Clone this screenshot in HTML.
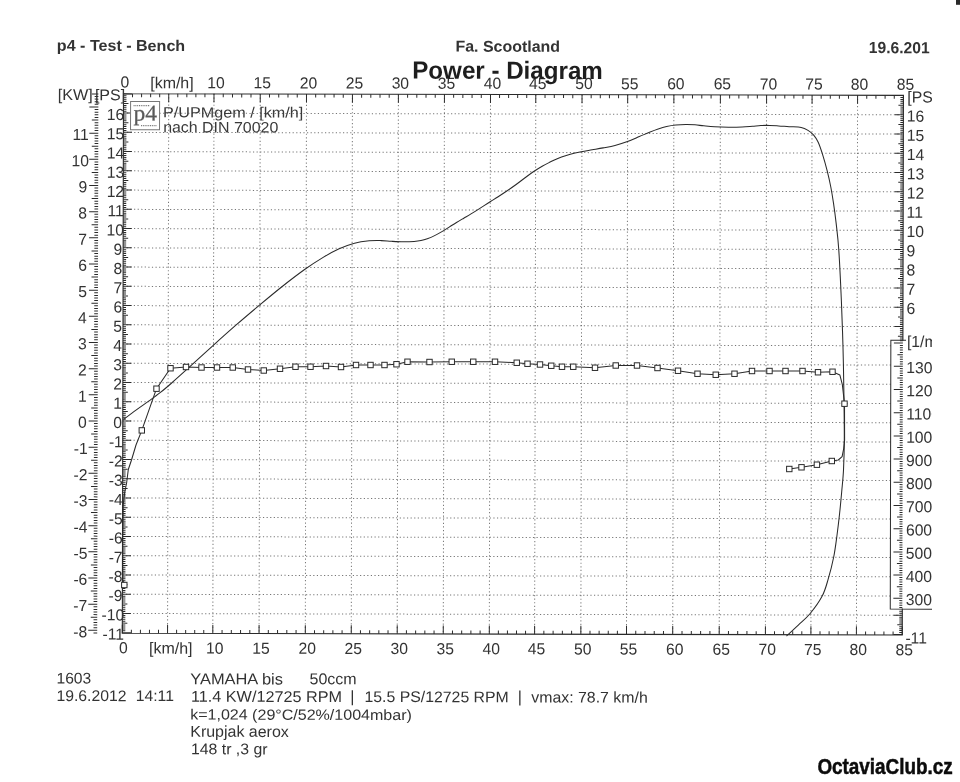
<!DOCTYPE html>
<html><head><meta charset="utf-8"><title>Power - Diagram</title>
<style>
html,body{margin:0;padding:0;background:#fff;width:960px;height:782px;overflow:hidden}
svg{display:block;filter:blur(0.3px)}
text{font-family:"Liberation Sans",Arial,sans-serif}
</style></head><body>
<svg width="960" height="782" viewBox="0 0 960 782">
<defs>
<clipPath id="pg"><rect x="0" y="0" width="931.9" height="782"/></clipPath>
<clipPath id="pa"><rect x="122.9" y="94.5" width="779.95" height="539.6"/></clipPath>
</defs>
<rect width="960" height="782" fill="#fff"/>
<g clip-path="url(#pg)">
<g transform="rotate(0.126 512.85 364.4)">
<path d="M168.15 94.5V634.1M213.4 94.5V634.1M259.65 94.5V634.1M305.9 94.5V634.1M351.85 94.5V634.1M397.8 94.5V634.1M443.85 94.5V634.1M489.9 94.5V634.1M535.2 94.5V634.1M581.45 94.5V634.1M627.1 94.5V634.1M673.3 94.5V634.1M719.8 94.5V634.1M766 94.5V634.1M811.5 94.5V634.1M857 94.5V634.1M122.9 614.36H902.85M122.9 595.11H902.85M122.9 575.87H902.85M122.9 556.62H902.85M122.9 537.38H902.85M122.9 518.13H902.85M122.9 498.88H902.85M122.9 479.64H902.85M122.9 460.39H902.85M122.9 441.15H902.85M122.9 421.9H902.85M122.9 402.65H902.85M122.9 383.41H902.85M122.9 364.16H902.85M122.9 344.92H902.85M122.9 325.67H902.85M122.9 306.42H902.85M122.9 287.18H902.85M122.9 267.93H902.85M122.9 248.69H902.85M122.9 229.44H902.85M122.9 210.19H902.85M122.9 190.95H902.85M122.9 171.7H902.85M122.9 152.46H902.85M122.9 133.21H902.85M122.9 113.96H902.85" stroke="#757575" stroke-width="1" stroke-dasharray="1.2 2.4" fill="none"/>
<path d="M122.9 94.5v8.5M122.9 634.1v-8.5M131.95 94.5v3.5M131.95 634.1v-3.5M141 94.5v3.5M141 634.1v-3.5M150.05 94.5v3.5M150.05 634.1v-3.5M159.1 94.5v3.5M159.1 634.1v-3.5M168.15 94.5v8.5M168.15 634.1v-8.5M177.2 94.5v3.5M177.2 634.1v-3.5M186.25 94.5v3.5M186.25 634.1v-3.5M195.3 94.5v3.5M195.3 634.1v-3.5M204.35 94.5v3.5M204.35 634.1v-3.5M213.4 94.5v8.5M213.4 634.1v-8.5M222.65 94.5v3.5M222.65 634.1v-3.5M231.9 94.5v3.5M231.9 634.1v-3.5M241.15 94.5v3.5M241.15 634.1v-3.5M250.4 94.5v3.5M250.4 634.1v-3.5M259.65 94.5v8.5M259.65 634.1v-8.5M268.9 94.5v3.5M268.9 634.1v-3.5M278.15 94.5v3.5M278.15 634.1v-3.5M287.4 94.5v3.5M287.4 634.1v-3.5M296.65 94.5v3.5M296.65 634.1v-3.5M305.9 94.5v8.5M305.9 634.1v-8.5M315.09 94.5v3.5M315.09 634.1v-3.5M324.28 94.5v3.5M324.28 634.1v-3.5M333.47 94.5v3.5M333.47 634.1v-3.5M342.66 94.5v3.5M342.66 634.1v-3.5M351.85 94.5v8.5M351.85 634.1v-8.5M361.04 94.5v3.5M361.04 634.1v-3.5M370.23 94.5v3.5M370.23 634.1v-3.5M379.42 94.5v3.5M379.42 634.1v-3.5M388.61 94.5v3.5M388.61 634.1v-3.5M397.8 94.5v8.5M397.8 634.1v-8.5M407.01 94.5v3.5M407.01 634.1v-3.5M416.22 94.5v3.5M416.22 634.1v-3.5M425.43 94.5v3.5M425.43 634.1v-3.5M434.64 94.5v3.5M434.64 634.1v-3.5M443.85 94.5v8.5M443.85 634.1v-8.5M453.06 94.5v3.5M453.06 634.1v-3.5M462.27 94.5v3.5M462.27 634.1v-3.5M471.48 94.5v3.5M471.48 634.1v-3.5M480.69 94.5v3.5M480.69 634.1v-3.5M489.9 94.5v8.5M489.9 634.1v-8.5M498.96 94.5v3.5M498.96 634.1v-3.5M508.02 94.5v3.5M508.02 634.1v-3.5M517.08 94.5v3.5M517.08 634.1v-3.5M526.14 94.5v3.5M526.14 634.1v-3.5M535.2 94.5v8.5M535.2 634.1v-8.5M544.45 94.5v3.5M544.45 634.1v-3.5M553.7 94.5v3.5M553.7 634.1v-3.5M562.95 94.5v3.5M562.95 634.1v-3.5M572.2 94.5v3.5M572.2 634.1v-3.5M581.45 94.5v8.5M581.45 634.1v-8.5M590.58 94.5v3.5M590.58 634.1v-3.5M599.71 94.5v3.5M599.71 634.1v-3.5M608.84 94.5v3.5M608.84 634.1v-3.5M617.97 94.5v3.5M617.97 634.1v-3.5M627.1 94.5v8.5M627.1 634.1v-8.5M636.34 94.5v3.5M636.34 634.1v-3.5M645.58 94.5v3.5M645.58 634.1v-3.5M654.82 94.5v3.5M654.82 634.1v-3.5M664.06 94.5v3.5M664.06 634.1v-3.5M673.3 94.5v8.5M673.3 634.1v-8.5M682.6 94.5v3.5M682.6 634.1v-3.5M691.9 94.5v3.5M691.9 634.1v-3.5M701.2 94.5v3.5M701.2 634.1v-3.5M710.5 94.5v3.5M710.5 634.1v-3.5M719.8 94.5v8.5M719.8 634.1v-8.5M729.04 94.5v3.5M729.04 634.1v-3.5M738.28 94.5v3.5M738.28 634.1v-3.5M747.52 94.5v3.5M747.52 634.1v-3.5M756.76 94.5v3.5M756.76 634.1v-3.5M766 94.5v8.5M766 634.1v-8.5M775.1 94.5v3.5M775.1 634.1v-3.5M784.2 94.5v3.5M784.2 634.1v-3.5M793.3 94.5v3.5M793.3 634.1v-3.5M802.4 94.5v3.5M802.4 634.1v-3.5M811.5 94.5v8.5M811.5 634.1v-8.5M820.6 94.5v3.5M820.6 634.1v-3.5M829.7 94.5v3.5M829.7 634.1v-3.5M838.8 94.5v3.5M838.8 634.1v-3.5M847.9 94.5v3.5M847.9 634.1v-3.5M857 94.5v8.5M857 634.1v-8.5M866.17 94.5v3.5M866.17 634.1v-3.5M875.34 94.5v3.5M875.34 634.1v-3.5M884.51 94.5v3.5M884.51 634.1v-3.5M893.68 94.5v3.5M893.68 634.1v-3.5M902.85 94.5v8.5M902.85 634.1v-8.5M122.9 633.61h8.5M902.85 633.61h-8.5M122.9 631.68h3M902.85 631.68h-3M122.9 629.76h3M902.85 629.76h-3M122.9 627.83h3M902.85 627.83h-3M122.9 625.91h3M902.85 625.91h-3M122.9 623.98h5M902.85 623.98h-5M122.9 622.06h3M902.85 622.06h-3M122.9 620.13h3M902.85 620.13h-3M122.9 618.21h3M902.85 618.21h-3M122.9 616.28h3M902.85 616.28h-3M122.9 614.36h8.5M902.85 614.36h-8.5M122.9 612.44h3M902.85 612.44h-3M122.9 610.51h3M902.85 610.51h-3M122.9 608.59h3M122.9 606.66h3M122.9 604.74h5M122.9 602.81h3M122.9 600.89h3M122.9 598.96h3M122.9 597.04h3M122.9 595.11h8.5M122.9 593.19h3M122.9 591.26h3M122.9 589.34h3M122.9 587.42h3M122.9 585.49h5M122.9 583.57h3M122.9 581.64h3M122.9 579.72h3M122.9 577.79h3M122.9 575.87h8.5M122.9 573.94h3M122.9 572.02h3M122.9 570.09h3M122.9 568.17h3M122.9 566.25h5M122.9 564.32h3M122.9 562.4h3M122.9 560.47h3M122.9 558.55h3M122.9 556.62h8.5M122.9 554.7h3M122.9 552.77h3M122.9 550.85h3M122.9 548.92h3M122.9 547h5M122.9 545.07h3M122.9 543.15h3M122.9 541.23h3M122.9 539.3h3M122.9 537.38h8.5M122.9 535.45h3M122.9 533.53h3M122.9 531.6h3M122.9 529.68h3M122.9 527.75h5M122.9 525.83h3M122.9 523.9h3M122.9 521.98h3M122.9 520.05h3M122.9 518.13h8.5M122.9 516.21h3M122.9 514.28h3M122.9 512.36h3M122.9 510.43h3M122.9 508.51h5M122.9 506.58h3M122.9 504.66h3M122.9 502.73h3M122.9 500.81h3M122.9 498.88h8.5M122.9 496.96h3M122.9 495.03h3M122.9 493.11h3M122.9 491.19h3M122.9 489.26h5M122.9 487.34h3M122.9 485.41h3M122.9 483.49h3M122.9 481.56h3M122.9 479.64h8.5M122.9 477.71h3M122.9 475.79h3M122.9 473.86h3M122.9 471.94h3M122.9 470.01h5M122.9 468.09h3M122.9 466.17h3M122.9 464.24h3M122.9 462.32h3M122.9 460.39h8.5M122.9 458.47h3M122.9 456.54h3M122.9 454.62h3M122.9 452.69h3M122.9 450.77h5M122.9 448.84h3M122.9 446.92h3M122.9 445h3M122.9 443.07h3M122.9 441.15h8.5M122.9 439.22h3M122.9 437.3h3M122.9 435.37h3M122.9 433.45h3M122.9 431.52h5M122.9 429.6h3M122.9 427.67h3M122.9 425.75h3M122.9 423.82h3M122.9 421.9h8.5M122.9 419.98h3M122.9 418.05h3M122.9 416.13h3M122.9 414.2h3M122.9 412.28h5M122.9 410.35h3M122.9 408.43h3M122.9 406.5h3M122.9 404.58h3M122.9 402.65h8.5M122.9 400.73h3M122.9 398.8h3M122.9 396.88h3M122.9 394.96h3M122.9 393.03h5M122.9 391.11h3M122.9 389.18h3M122.9 387.26h3M122.9 385.33h3M122.9 383.41h8.5M122.9 381.48h3M122.9 379.56h3M122.9 377.63h3M122.9 375.71h3M122.9 373.78h5M122.9 371.86h3M122.9 369.94h3M122.9 368.01h3M122.9 366.09h3M122.9 364.16h8.5M122.9 362.24h3M122.9 360.31h3M122.9 358.39h3M122.9 356.46h3M122.9 354.54h5M122.9 352.61h3M122.9 350.69h3M122.9 348.77h3M122.9 346.84h3M122.9 344.92h8.5M122.9 342.99h3M122.9 341.07h3M122.9 339.14h3M902.85 339.14h-3M122.9 337.22h3M902.85 337.22h-3M122.9 335.29h5M902.85 335.29h-5M122.9 333.37h3M902.85 333.37h-3M122.9 331.44h3M902.85 331.44h-3M122.9 329.52h3M902.85 329.52h-3M122.9 327.59h3M902.85 327.59h-3M122.9 325.67h8.5M902.85 325.67h-8.5M122.9 323.75h3M902.85 323.75h-3M122.9 321.82h3M902.85 321.82h-3M122.9 319.9h3M902.85 319.9h-3M122.9 317.97h3M902.85 317.97h-3M122.9 316.05h5M902.85 316.05h-5M122.9 314.12h3M902.85 314.12h-3M122.9 312.2h3M902.85 312.2h-3M122.9 310.27h3M902.85 310.27h-3M122.9 308.35h3M902.85 308.35h-3M122.9 306.42h8.5M902.85 306.42h-8.5M122.9 304.5h3M902.85 304.5h-3M122.9 302.57h3M902.85 302.57h-3M122.9 300.65h3M902.85 300.65h-3M122.9 298.73h3M902.85 298.73h-3M122.9 296.8h5M902.85 296.8h-5M122.9 294.88h3M902.85 294.88h-3M122.9 292.95h3M902.85 292.95h-3M122.9 291.03h3M902.85 291.03h-3M122.9 289.1h3M902.85 289.1h-3M122.9 287.18h8.5M902.85 287.18h-8.5M122.9 285.25h3M902.85 285.25h-3M122.9 283.33h3M902.85 283.33h-3M122.9 281.4h3M902.85 281.4h-3M122.9 279.48h3M902.85 279.48h-3M122.9 277.55h5M902.85 277.55h-5M122.9 275.63h3M902.85 275.63h-3M122.9 273.71h3M902.85 273.71h-3M122.9 271.78h3M902.85 271.78h-3M122.9 269.86h3M902.85 269.86h-3M122.9 267.93h8.5M902.85 267.93h-8.5M122.9 266.01h3M902.85 266.01h-3M122.9 264.08h3M902.85 264.08h-3M122.9 262.16h3M902.85 262.16h-3M122.9 260.23h3M902.85 260.23h-3M122.9 258.31h5M902.85 258.31h-5M122.9 256.38h3M902.85 256.38h-3M122.9 254.46h3M902.85 254.46h-3M122.9 252.54h3M902.85 252.54h-3M122.9 250.61h3M902.85 250.61h-3M122.9 248.69h8.5M902.85 248.69h-8.5M122.9 246.76h3M902.85 246.76h-3M122.9 244.84h3M902.85 244.84h-3M122.9 242.91h3M902.85 242.91h-3M122.9 240.99h3M902.85 240.99h-3M122.9 239.06h5M902.85 239.06h-5M122.9 237.14h3M902.85 237.14h-3M122.9 235.21h3M902.85 235.21h-3M122.9 233.29h3M902.85 233.29h-3M122.9 231.36h3M902.85 231.36h-3M122.9 229.44h8.5M902.85 229.44h-8.5M122.9 227.52h3M902.85 227.52h-3M122.9 225.59h3M902.85 225.59h-3M122.9 223.67h3M902.85 223.67h-3M122.9 221.74h3M902.85 221.74h-3M122.9 219.82h5M902.85 219.82h-5M122.9 217.89h3M902.85 217.89h-3M122.9 215.97h3M902.85 215.97h-3M122.9 214.04h3M902.85 214.04h-3M122.9 212.12h3M902.85 212.12h-3M122.9 210.19h8.5M902.85 210.19h-8.5M122.9 208.27h3M902.85 208.27h-3M122.9 206.34h3M902.85 206.34h-3M122.9 204.42h3M902.85 204.42h-3M122.9 202.5h3M902.85 202.5h-3M122.9 200.57h5M902.85 200.57h-5M122.9 198.65h3M902.85 198.65h-3M122.9 196.72h3M902.85 196.72h-3M122.9 194.8h3M902.85 194.8h-3M122.9 192.87h3M902.85 192.87h-3M122.9 190.95h8.5M902.85 190.95h-8.5M122.9 189.02h3M902.85 189.02h-3M122.9 187.1h3M902.85 187.1h-3M122.9 185.17h3M902.85 185.17h-3M122.9 183.25h3M902.85 183.25h-3M122.9 181.32h5M902.85 181.32h-5M122.9 179.4h3M902.85 179.4h-3M122.9 177.48h3M902.85 177.48h-3M122.9 175.55h3M902.85 175.55h-3M122.9 173.63h3M902.85 173.63h-3M122.9 171.7h8.5M902.85 171.7h-8.5M122.9 169.78h3M902.85 169.78h-3M122.9 167.85h3M902.85 167.85h-3M122.9 165.93h3M902.85 165.93h-3M122.9 164h3M902.85 164h-3M122.9 162.08h5M902.85 162.08h-5M122.9 160.15h3M902.85 160.15h-3M122.9 158.23h3M902.85 158.23h-3M122.9 156.31h3M902.85 156.31h-3M122.9 154.38h3M902.85 154.38h-3M122.9 152.46h8.5M902.85 152.46h-8.5M122.9 150.53h3M902.85 150.53h-3M122.9 148.61h3M902.85 148.61h-3M122.9 146.68h3M902.85 146.68h-3M122.9 144.76h3M902.85 144.76h-3M122.9 142.83h5M902.85 142.83h-5M122.9 140.91h3M902.85 140.91h-3M122.9 138.98h3M902.85 138.98h-3M122.9 137.06h3M902.85 137.06h-3M122.9 135.13h3M902.85 135.13h-3M122.9 133.21h8.5M902.85 133.21h-8.5M122.9 131.29h3M902.85 131.29h-3M122.9 129.36h3M902.85 129.36h-3M122.9 127.44h3M902.85 127.44h-3M122.9 125.51h3M902.85 125.51h-3M122.9 123.59h5M902.85 123.59h-5M122.9 121.66h3M902.85 121.66h-3M122.9 119.74h3M902.85 119.74h-3M122.9 117.81h3M902.85 117.81h-3M122.9 115.89h3M902.85 115.89h-3M122.9 113.96h8.5M902.85 113.96h-8.5M122.9 112.04h3M902.85 112.04h-3M122.9 110.11h3M902.85 110.11h-3M122.9 108.19h3M902.85 108.19h-3M122.9 106.27h3M902.85 106.27h-3M122.9 104.34h5M902.85 104.34h-5M122.9 102.42h3M902.85 102.42h-3M122.9 100.49h3M902.85 100.49h-3M122.9 98.57h3M902.85 98.57h-3M122.9 96.64h3M902.85 96.64h-3M122.9 94.72h8.5M902.85 94.72h-8.5M97.8 633.85h-3.7M97.8 631.24h-9M97.8 628.62h-3.7M97.8 626h-3.7M97.8 623.39h-3.7M97.8 620.77h-3.7M97.8 618.15h-6.5M97.8 615.54h-3.7M97.8 612.92h-3.7M97.8 610.3h-3.7M97.8 607.69h-3.7M97.8 605.07h-9M97.8 602.45h-3.7M97.8 599.84h-3.7M97.8 597.22h-3.7M97.8 594.6h-3.7M97.8 591.99h-6.5M97.8 589.37h-3.7M97.8 586.75h-3.7M97.8 584.14h-3.7M97.8 581.52h-3.7M97.8 578.9h-9M97.8 576.29h-3.7M97.8 573.67h-3.7M97.8 571.05h-3.7M97.8 568.44h-3.7M97.8 565.82h-6.5M97.8 563.2h-3.7M97.8 560.59h-3.7M97.8 557.97h-3.7M97.8 555.35h-3.7M97.8 552.74h-9M97.8 550.12h-3.7M97.8 547.5h-3.7M97.8 544.89h-3.7M97.8 542.27h-3.7M97.8 539.65h-6.5M97.8 537.04h-3.7M97.8 534.42h-3.7M97.8 531.8h-3.7M97.8 529.19h-3.7M97.8 526.57h-9M97.8 523.95h-3.7M97.8 521.34h-3.7M97.8 518.72h-3.7M97.8 516.1h-3.7M97.8 513.49h-6.5M97.8 510.87h-3.7M97.8 508.25h-3.7M97.8 505.64h-3.7M97.8 503.02h-3.7M97.8 500.4h-9M97.8 497.79h-3.7M97.8 495.17h-3.7M97.8 492.55h-3.7M97.8 489.93h-3.7M97.8 487.32h-6.5M97.8 484.7h-3.7M97.8 482.08h-3.7M97.8 479.47h-3.7M97.8 476.85h-3.7M97.8 474.23h-9M97.8 471.62h-3.7M97.8 469h-3.7M97.8 466.38h-3.7M97.8 463.77h-3.7M97.8 461.15h-6.5M97.8 458.53h-3.7M97.8 455.92h-3.7M97.8 453.3h-3.7M97.8 450.68h-3.7M97.8 448.07h-9M97.8 445.45h-3.7M97.8 442.83h-3.7M97.8 440.22h-3.7M97.8 437.6h-3.7M97.8 434.98h-6.5M97.8 432.37h-3.7M97.8 429.75h-3.7M97.8 427.13h-3.7M97.8 424.52h-3.7M97.8 421.9h-9M97.8 419.28h-3.7M97.8 416.67h-3.7M97.8 414.05h-3.7M97.8 411.43h-3.7M97.8 408.82h-6.5M97.8 406.2h-3.7M97.8 403.58h-3.7M97.8 400.97h-3.7M97.8 398.35h-3.7M97.8 395.73h-9M97.8 393.12h-3.7M97.8 390.5h-3.7M97.8 387.88h-3.7M97.8 385.27h-3.7M97.8 382.65h-6.5M97.8 380.03h-3.7M97.8 377.42h-3.7M97.8 374.8h-3.7M97.8 372.18h-3.7M97.8 369.57h-9M97.8 366.95h-3.7M97.8 364.33h-3.7M97.8 361.72h-3.7M97.8 359.1h-3.7M97.8 356.48h-6.5M97.8 353.87h-3.7M97.8 351.25h-3.7M97.8 348.63h-3.7M97.8 346.01h-3.7M97.8 343.4h-9M97.8 340.78h-3.7M97.8 338.16h-3.7M97.8 335.55h-3.7M97.8 332.93h-3.7M97.8 330.31h-6.5M97.8 327.7h-3.7M97.8 325.08h-3.7M97.8 322.46h-3.7M97.8 319.85h-3.7M97.8 317.23h-9M97.8 314.61h-3.7M97.8 312h-3.7M97.8 309.38h-3.7M97.8 306.76h-3.7M97.8 304.15h-6.5M97.8 301.53h-3.7M97.8 298.91h-3.7M97.8 296.3h-3.7M97.8 293.68h-3.7M97.8 291.06h-9M97.8 288.45h-3.7M97.8 285.83h-3.7M97.8 283.21h-3.7M97.8 280.6h-3.7M97.8 277.98h-6.5M97.8 275.36h-3.7M97.8 272.75h-3.7M97.8 270.13h-3.7M97.8 267.51h-3.7M97.8 264.9h-9M97.8 262.28h-3.7M97.8 259.66h-3.7M97.8 257.05h-3.7M97.8 254.43h-3.7M97.8 251.81h-6.5M97.8 249.2h-3.7M97.8 246.58h-3.7M97.8 243.96h-3.7M97.8 241.35h-3.7M97.8 238.73h-9M97.8 236.11h-3.7M97.8 233.5h-3.7M97.8 230.88h-3.7M97.8 228.26h-3.7M97.8 225.65h-6.5M97.8 223.03h-3.7M97.8 220.41h-3.7M97.8 217.8h-3.7M97.8 215.18h-3.7M97.8 212.56h-9M97.8 209.95h-3.7M97.8 207.33h-3.7M97.8 204.71h-3.7M97.8 202.1h-3.7M97.8 199.48h-6.5M97.8 196.86h-3.7M97.8 194.24h-3.7M97.8 191.63h-3.7M97.8 189.01h-3.7M97.8 186.39h-9M97.8 183.78h-3.7M97.8 181.16h-3.7M97.8 178.54h-3.7M97.8 175.93h-3.7M97.8 173.31h-6.5M97.8 170.69h-3.7M97.8 168.08h-3.7M97.8 165.46h-3.7M97.8 162.84h-3.7M97.8 160.23h-9M97.8 157.61h-3.7M97.8 154.99h-3.7M97.8 152.38h-3.7M97.8 149.76h-3.7M97.8 147.14h-6.5M97.8 144.53h-3.7M97.8 141.91h-3.7M97.8 139.29h-3.7M97.8 136.68h-3.7M97.8 134.06h-9M97.8 131.44h-3.7M97.8 128.83h-3.7M97.8 126.21h-3.7M97.8 123.59h-3.7M97.8 120.98h-6.5M97.8 118.36h-3.7M97.8 115.74h-3.7M97.8 113.13h-3.7M97.8 110.51h-3.7M97.8 107.89h-9M97.8 105.28h-3.7M97.8 102.66h-3.7M97.8 100.04h-3.7M97.8 97.43h-3.7M97.8 94.81h-6.5" stroke="#2a2a2a" stroke-width="1" fill="none"/>
<rect x="890.8" y="339.4" width="61.700000000000045" height="268.85" fill="#fff"/>
<path d="M906 339.4H890.8V608.25H950" stroke="#2a2a2a" stroke-width="1" fill="none"/>
<path d="M902.85 606.73h-3M902.85 604.41h-3M902.85 602.09h-3M902.85 599.77h-3M902.85 597.45h-9M902.85 595.13h-3M902.85 592.81h-3M902.85 590.49h-3M902.85 588.17h-3M902.85 585.85h-5.5M902.85 583.53h-3M902.85 581.21h-3M902.85 578.89h-3M902.85 576.57h-3M902.85 574.25h-9M902.85 571.93h-3M902.85 569.61h-3M902.85 567.29h-3M902.85 564.97h-3M902.85 562.65h-5.5M902.85 560.33h-3M902.85 558.01h-3M902.85 555.69h-3M902.85 553.37h-3M902.85 551.05h-9M902.85 548.73h-3M902.85 546.41h-3M902.85 544.09h-3M902.85 541.77h-3M902.85 539.45h-5.5M902.85 537.13h-3M902.85 534.81h-3M902.85 532.49h-3M902.85 530.17h-3M902.85 527.85h-9M902.85 525.53h-3M902.85 523.21h-3M902.85 520.89h-3M902.85 518.57h-3M902.85 516.25h-5.5M902.85 513.93h-3M902.85 511.61h-3M902.85 509.29h-3M902.85 506.97h-3M902.85 504.65h-9M902.85 502.33h-3M902.85 500.01h-3M902.85 497.69h-3M902.85 495.37h-3M902.85 493.05h-5.5M902.85 490.73h-3M902.85 488.41h-3M902.85 486.09h-3M902.85 483.77h-3M902.85 481.45h-9M902.85 479.13h-3M902.85 476.81h-3M902.85 474.49h-3M902.85 472.17h-3M902.85 469.85h-5.5M902.85 467.53h-3M902.85 465.21h-3M902.85 462.89h-3M902.85 460.57h-3M902.85 458.25h-9M902.85 455.93h-3M902.85 453.61h-3M902.85 451.29h-3M902.85 448.97h-3M902.85 446.65h-5.5M902.85 444.33h-3M902.85 442.01h-3M902.85 439.69h-3M902.85 437.37h-3M902.85 435.05h-9M902.85 432.73h-3M902.85 430.41h-3M902.85 428.09h-3M902.85 425.77h-3M902.85 423.45h-5.5M902.85 421.13h-3M902.85 418.81h-3M902.85 416.49h-3M902.85 414.17h-3M902.85 411.85h-9M902.85 409.53h-3M902.85 407.21h-3M902.85 404.89h-3M902.85 402.57h-3M902.85 400.25h-5.5M902.85 397.93h-3M902.85 395.61h-3M902.85 393.29h-3M902.85 390.97h-3M902.85 388.65h-9M902.85 386.33h-3M902.85 384.01h-3M902.85 381.69h-3M902.85 379.37h-3M902.85 377.05h-5.5M902.85 374.73h-3M902.85 372.41h-3M902.85 370.09h-3M902.85 367.77h-3M902.85 365.45h-9M902.85 363.13h-3M902.85 360.81h-3M902.85 358.49h-3M902.85 356.17h-3M902.85 353.85h-5.5M902.85 351.53h-3M902.85 349.21h-3M902.85 346.89h-3M902.85 344.57h-3M902.85 342.25h-9M902.85 339.93h-3" stroke="#2a2a2a" stroke-width="1" fill="none"/>
<path d="M122.9 94.5H902.85V339.4M902.85 608.25V634.1H122.9V94.5" stroke="#2a2a2a" stroke-width="1.1" fill="none" stroke-linecap="square"/>
<text x="206.65" y="88.9" font-size="16" textLength="17.44" lengthAdjust="spacingAndGlyphs" fill="#333">10</text>
<text x="252.9" y="88.9" font-size="16" textLength="17.44" lengthAdjust="spacingAndGlyphs" fill="#333">15</text>
<text x="299.15" y="88.9" font-size="16" textLength="17.44" lengthAdjust="spacingAndGlyphs" fill="#333">20</text>
<text x="345.1" y="88.9" font-size="16" textLength="17.44" lengthAdjust="spacingAndGlyphs" fill="#333">25</text>
<text x="391.05" y="88.9" font-size="16" textLength="17.44" lengthAdjust="spacingAndGlyphs" fill="#333">30</text>
<text x="437.1" y="88.9" font-size="16" textLength="17.44" lengthAdjust="spacingAndGlyphs" fill="#333">35</text>
<text x="483.15" y="88.9" font-size="16" textLength="17.44" lengthAdjust="spacingAndGlyphs" fill="#333">40</text>
<text x="528.45" y="88.9" font-size="16" textLength="17.44" lengthAdjust="spacingAndGlyphs" fill="#333">45</text>
<text x="574.7" y="88.9" font-size="16" textLength="17.44" lengthAdjust="spacingAndGlyphs" fill="#333">50</text>
<text x="620.35" y="88.9" font-size="16" textLength="17.44" lengthAdjust="spacingAndGlyphs" fill="#333">55</text>
<text x="666.55" y="88.9" font-size="16" textLength="17.44" lengthAdjust="spacingAndGlyphs" fill="#333">60</text>
<text x="713.05" y="88.9" font-size="16" textLength="17.44" lengthAdjust="spacingAndGlyphs" fill="#333">65</text>
<text x="759.25" y="88.9" font-size="16" textLength="17.44" lengthAdjust="spacingAndGlyphs" fill="#333">70</text>
<text x="804.75" y="88.9" font-size="16" textLength="17.44" lengthAdjust="spacingAndGlyphs" fill="#333">75</text>
<text x="850.25" y="88.9" font-size="16" textLength="17.44" lengthAdjust="spacingAndGlyphs" fill="#333">80</text>
<text x="896.1" y="88.9" font-size="16" textLength="17.44" lengthAdjust="spacingAndGlyphs" fill="#333">85</text>
<text x="119.82" y="88.3" font-size="16" textLength="8.73" lengthAdjust="spacingAndGlyphs" fill="#333">0</text>
<text x="206.65" y="654.3" font-size="16" textLength="17.44" lengthAdjust="spacingAndGlyphs" fill="#333">10</text>
<text x="252.9" y="654.3" font-size="16" textLength="17.44" lengthAdjust="spacingAndGlyphs" fill="#333">15</text>
<text x="299.15" y="654.3" font-size="16" textLength="17.44" lengthAdjust="spacingAndGlyphs" fill="#333">20</text>
<text x="345.1" y="654.3" font-size="16" textLength="17.44" lengthAdjust="spacingAndGlyphs" fill="#333">25</text>
<text x="391.05" y="654.3" font-size="16" textLength="17.44" lengthAdjust="spacingAndGlyphs" fill="#333">30</text>
<text x="437.1" y="654.3" font-size="16" textLength="17.44" lengthAdjust="spacingAndGlyphs" fill="#333">35</text>
<text x="483.15" y="654.3" font-size="16" textLength="17.44" lengthAdjust="spacingAndGlyphs" fill="#333">40</text>
<text x="528.45" y="654.3" font-size="16" textLength="17.44" lengthAdjust="spacingAndGlyphs" fill="#333">45</text>
<text x="574.7" y="654.3" font-size="16" textLength="17.44" lengthAdjust="spacingAndGlyphs" fill="#333">50</text>
<text x="620.35" y="654.3" font-size="16" textLength="17.44" lengthAdjust="spacingAndGlyphs" fill="#333">55</text>
<text x="666.55" y="654.3" font-size="16" textLength="17.44" lengthAdjust="spacingAndGlyphs" fill="#333">60</text>
<text x="713.05" y="654.3" font-size="16" textLength="17.44" lengthAdjust="spacingAndGlyphs" fill="#333">65</text>
<text x="759.25" y="654.3" font-size="16" textLength="17.44" lengthAdjust="spacingAndGlyphs" fill="#333">70</text>
<text x="804.75" y="654.3" font-size="16" textLength="17.44" lengthAdjust="spacingAndGlyphs" fill="#333">75</text>
<text x="850.25" y="654.3" font-size="16" textLength="17.44" lengthAdjust="spacingAndGlyphs" fill="#333">80</text>
<text x="896.1" y="654.3" font-size="16" textLength="17.44" lengthAdjust="spacingAndGlyphs" fill="#333">85</text>
<text x="119.72" y="654" font-size="16" textLength="8.73" lengthAdjust="spacingAndGlyphs" fill="#333">0</text>
<text x="73.88" y="638.14" font-size="16" textLength="13.95" lengthAdjust="spacingAndGlyphs" fill="#333">-8</text>
<text x="73.88" y="611.97" font-size="16" textLength="13.95" lengthAdjust="spacingAndGlyphs" fill="#333">-7</text>
<text x="73.88" y="585.8" font-size="16" textLength="13.95" lengthAdjust="spacingAndGlyphs" fill="#333">-6</text>
<text x="73.88" y="559.64" font-size="16" textLength="13.95" lengthAdjust="spacingAndGlyphs" fill="#333">-5</text>
<text x="73.88" y="533.47" font-size="16" textLength="13.95" lengthAdjust="spacingAndGlyphs" fill="#333">-4</text>
<text x="73.88" y="507.3" font-size="16" textLength="13.95" lengthAdjust="spacingAndGlyphs" fill="#333">-3</text>
<text x="73.88" y="481.13" font-size="16" textLength="13.95" lengthAdjust="spacingAndGlyphs" fill="#333">-2</text>
<text x="73.88" y="454.97" font-size="16" textLength="13.95" lengthAdjust="spacingAndGlyphs" fill="#333">-1</text>
<text x="78.04" y="428.8" font-size="16" textLength="8.73" lengthAdjust="spacingAndGlyphs" fill="#333">0</text>
<text x="78.04" y="402.63" font-size="16" textLength="8.73" lengthAdjust="spacingAndGlyphs" fill="#333">1</text>
<text x="78.04" y="376.47" font-size="16" textLength="8.73" lengthAdjust="spacingAndGlyphs" fill="#333">2</text>
<text x="78.04" y="350.3" font-size="16" textLength="8.73" lengthAdjust="spacingAndGlyphs" fill="#333">3</text>
<text x="78.04" y="324.13" font-size="16" textLength="8.73" lengthAdjust="spacingAndGlyphs" fill="#333">4</text>
<text x="78.04" y="297.96" font-size="16" textLength="8.73" lengthAdjust="spacingAndGlyphs" fill="#333">5</text>
<text x="78.04" y="271.8" font-size="16" textLength="8.73" lengthAdjust="spacingAndGlyphs" fill="#333">6</text>
<text x="78.04" y="245.63" font-size="16" textLength="8.73" lengthAdjust="spacingAndGlyphs" fill="#333">7</text>
<text x="78.04" y="219.46" font-size="16" textLength="8.73" lengthAdjust="spacingAndGlyphs" fill="#333">8</text>
<text x="78.04" y="193.29" font-size="16" textLength="8.73" lengthAdjust="spacingAndGlyphs" fill="#333">9</text>
<text x="71.1" y="167.13" font-size="16" textLength="17.44" lengthAdjust="spacingAndGlyphs" fill="#333">10</text>
<text x="72.02" y="140.96" font-size="16" textLength="16.28" lengthAdjust="spacingAndGlyphs" fill="#333">11</text>
<text x="103.02" y="640.51" font-size="16" textLength="21.5" lengthAdjust="spacingAndGlyphs" fill="#333">-11</text>
<text x="102.09" y="621.26" font-size="16" textLength="22.66" lengthAdjust="spacingAndGlyphs" fill="#333">-10</text>
<text x="109.09" y="602.01" font-size="16" textLength="13.95" lengthAdjust="spacingAndGlyphs" fill="#333">-9</text>
<text x="109.09" y="582.77" font-size="16" textLength="13.95" lengthAdjust="spacingAndGlyphs" fill="#333">-8</text>
<text x="109.09" y="563.52" font-size="16" textLength="13.95" lengthAdjust="spacingAndGlyphs" fill="#333">-7</text>
<text x="109.09" y="544.28" font-size="16" textLength="13.95" lengthAdjust="spacingAndGlyphs" fill="#333">-6</text>
<text x="109.09" y="525.03" font-size="16" textLength="13.95" lengthAdjust="spacingAndGlyphs" fill="#333">-5</text>
<text x="109.09" y="505.78" font-size="16" textLength="13.95" lengthAdjust="spacingAndGlyphs" fill="#333">-4</text>
<text x="109.09" y="486.54" font-size="16" textLength="13.95" lengthAdjust="spacingAndGlyphs" fill="#333">-3</text>
<text x="109.09" y="467.29" font-size="16" textLength="13.95" lengthAdjust="spacingAndGlyphs" fill="#333">-2</text>
<text x="109.09" y="448.05" font-size="16" textLength="13.95" lengthAdjust="spacingAndGlyphs" fill="#333">-1</text>
<text x="113.29" y="428.8" font-size="16" textLength="8.73" lengthAdjust="spacingAndGlyphs" fill="#333">0</text>
<text x="113.29" y="409.55" font-size="16" textLength="8.73" lengthAdjust="spacingAndGlyphs" fill="#333">1</text>
<text x="113.29" y="390.31" font-size="16" textLength="8.73" lengthAdjust="spacingAndGlyphs" fill="#333">2</text>
<text x="113.29" y="371.06" font-size="16" textLength="8.73" lengthAdjust="spacingAndGlyphs" fill="#333">3</text>
<text x="113.29" y="351.82" font-size="16" textLength="8.73" lengthAdjust="spacingAndGlyphs" fill="#333">4</text>
<text x="113.29" y="332.57" font-size="16" textLength="8.73" lengthAdjust="spacingAndGlyphs" fill="#333">5</text>
<text x="113.29" y="313.32" font-size="16" textLength="8.73" lengthAdjust="spacingAndGlyphs" fill="#333">6</text>
<text x="113.29" y="294.08" font-size="16" textLength="8.73" lengthAdjust="spacingAndGlyphs" fill="#333">7</text>
<text x="113.29" y="274.83" font-size="16" textLength="8.73" lengthAdjust="spacingAndGlyphs" fill="#333">8</text>
<text x="113.29" y="255.59" font-size="16" textLength="8.73" lengthAdjust="spacingAndGlyphs" fill="#333">9</text>
<text x="106.28" y="236.34" font-size="16" textLength="17.44" lengthAdjust="spacingAndGlyphs" fill="#333">10</text>
<text x="107.22" y="217.09" font-size="16" textLength="16.28" lengthAdjust="spacingAndGlyphs" fill="#333">11</text>
<text x="106.28" y="197.85" font-size="16" textLength="17.44" lengthAdjust="spacingAndGlyphs" fill="#333">12</text>
<text x="106.28" y="178.6" font-size="16" textLength="17.44" lengthAdjust="spacingAndGlyphs" fill="#333">13</text>
<text x="106.28" y="159.36" font-size="16" textLength="17.44" lengthAdjust="spacingAndGlyphs" fill="#333">14</text>
<text x="106.28" y="140.11" font-size="16" textLength="17.44" lengthAdjust="spacingAndGlyphs" fill="#333">15</text>
<text x="106.28" y="120.86" font-size="16" textLength="17.44" lengthAdjust="spacingAndGlyphs" fill="#333">16</text>
<text x="906.3" y="313.22" font-size="16" textLength="8.73" lengthAdjust="spacingAndGlyphs" fill="#333">6</text>
<text x="906.3" y="293.98" font-size="16" textLength="8.73" lengthAdjust="spacingAndGlyphs" fill="#333">7</text>
<text x="906.3" y="274.73" font-size="16" textLength="8.73" lengthAdjust="spacingAndGlyphs" fill="#333">8</text>
<text x="906.3" y="255.49" font-size="16" textLength="8.73" lengthAdjust="spacingAndGlyphs" fill="#333">9</text>
<text x="906.3" y="236.24" font-size="16" textLength="17.44" lengthAdjust="spacingAndGlyphs" fill="#333">10</text>
<text x="906.3" y="216.99" font-size="16" textLength="16.28" lengthAdjust="spacingAndGlyphs" fill="#333">11</text>
<text x="906.3" y="197.75" font-size="16" textLength="17.44" lengthAdjust="spacingAndGlyphs" fill="#333">12</text>
<text x="906.3" y="178.5" font-size="16" textLength="17.44" lengthAdjust="spacingAndGlyphs" fill="#333">13</text>
<text x="906.3" y="159.26" font-size="16" textLength="17.44" lengthAdjust="spacingAndGlyphs" fill="#333">14</text>
<text x="906.3" y="140.01" font-size="16" textLength="17.44" lengthAdjust="spacingAndGlyphs" fill="#333">15</text>
<text x="906.3" y="120.76" font-size="16" textLength="17.44" lengthAdjust="spacingAndGlyphs" fill="#333">16</text>
<text x="906" y="642.71" font-size="16" textLength="21.5" lengthAdjust="spacingAndGlyphs" fill="#333">-11</text>
<text x="906.3" y="604.25" font-size="16" textLength="34.88" lengthAdjust="spacingAndGlyphs" fill="#333">3000</text>
<text x="906.3" y="581.05" font-size="16" textLength="34.88" lengthAdjust="spacingAndGlyphs" fill="#333">4000</text>
<text x="906.3" y="557.85" font-size="16" textLength="34.88" lengthAdjust="spacingAndGlyphs" fill="#333">5000</text>
<text x="906.3" y="534.65" font-size="16" textLength="34.88" lengthAdjust="spacingAndGlyphs" fill="#333">6000</text>
<text x="906.3" y="511.45" font-size="16" textLength="34.88" lengthAdjust="spacingAndGlyphs" fill="#333">7000</text>
<text x="906.3" y="488.25" font-size="16" textLength="34.88" lengthAdjust="spacingAndGlyphs" fill="#333">8000</text>
<text x="906.3" y="465.05" font-size="16" textLength="34.88" lengthAdjust="spacingAndGlyphs" fill="#333">9000</text>
<text x="906.3" y="441.85" font-size="16" textLength="43.61" lengthAdjust="spacingAndGlyphs" fill="#333">10000</text>
<text x="906.3" y="418.65" font-size="16" textLength="42.45" lengthAdjust="spacingAndGlyphs" fill="#333">11000</text>
<text x="906.3" y="395.45" font-size="16" textLength="43.61" lengthAdjust="spacingAndGlyphs" fill="#333">12000</text>
<text x="906.3" y="372.25" font-size="16" textLength="43.61" lengthAdjust="spacingAndGlyphs" fill="#333">13000</text>
<text x="56.17" y="51.7" font-size="15.51" font-weight="bold" textLength="128.3" lengthAdjust="spacingAndGlyphs" fill="#333">p4 - Test - Bench</text>
<text x="454.79" y="51.72" font-size="15.66" font-weight="bold" textLength="104.59" lengthAdjust="spacingAndGlyphs" fill="#333">Fa. Scootland</text>
<text x="868.14" y="52.32" font-size="16.05" font-weight="bold" textLength="60.87" lengthAdjust="spacingAndGlyphs" fill="#333">19.6.201</text>
<text x="411.62" y="78.82" font-size="24.81" font-weight="bold" textLength="190.59" lengthAdjust="spacingAndGlyphs" fill="#1e1e1e">Power - Diagram</text>
<text x="57.28" y="100.9" font-size="15.51" textLength="34.96" lengthAdjust="spacingAndGlyphs" fill="#333">[KW]</text>
<text x="94.3" y="101.12" font-size="15.66" textLength="30.33" lengthAdjust="spacingAndGlyphs" fill="#333">[PS]</text>
<text x="149.65" y="89.1" font-size="16" textLength="43.41" lengthAdjust="spacingAndGlyphs" fill="#333">[km/h]</text>
<text x="149.74" y="654.4" font-size="16" textLength="43.46" lengthAdjust="spacingAndGlyphs" fill="#333">[km/h]</text>
<text x="906.74" y="101.63" font-size="16" textLength="25.47" lengthAdjust="spacingAndGlyphs" fill="#333">[PS</text>
<text x="906.98" y="346.03" font-size="16" textLength="47.06" lengthAdjust="spacingAndGlyphs" fill="#333">[1/min]</text>
<text x="162.56" y="118.07" font-size="14.73" textLength="140.05" lengthAdjust="spacingAndGlyphs" fill="#3a3a3a">P/UPMgem / [km/h]</text>
<text x="162.64" y="133.07" font-size="15.2" textLength="115.15" lengthAdjust="spacingAndGlyphs" fill="#3a3a3a">nach DIN 70020</text>
<text x="57.19" y="684.4" font-size="15.44" textLength="34.76" lengthAdjust="spacingAndGlyphs" fill="#333">1603</text>
<text x="57.22" y="702" font-size="15.44" textLength="70.02" lengthAdjust="spacingAndGlyphs" fill="#333">19.6.2012</text>
<text x="136.42" y="701.83" font-size="15.44" textLength="38.23" lengthAdjust="spacingAndGlyphs" fill="#333">14:11</text>
<text x="190.91" y="684.96" font-size="15.74" textLength="92.74" lengthAdjust="spacingAndGlyphs" fill="#333">YAMAHA bis</text>
<text x="310.19" y="684.69" font-size="15.74" textLength="47.12" lengthAdjust="spacingAndGlyphs" fill="#333">50ccm</text>
<text x="191.7" y="702.45" font-size="15.51" textLength="151.07" lengthAdjust="spacingAndGlyphs" fill="#333">11.4 KW/12725 RPM</text>
<text x="351.04" y="702.1" font-size="16" textLength="4.16" lengthAdjust="spacingAndGlyphs" fill="#333">|</text>
<text x="365.22" y="702.32" font-size="15.44" textLength="144.29" lengthAdjust="spacingAndGlyphs" fill="#333">15.5 PS/12725 RPM</text>
<text x="518.54" y="701.99" font-size="16" textLength="4.16" lengthAdjust="spacingAndGlyphs" fill="#333">|</text>
<text x="531.99" y="702.36" font-size="15.44" textLength="116.51" lengthAdjust="spacingAndGlyphs" fill="#333">vmax: 78.7 km/h</text>
<text x="190.95" y="720.21" font-size="14.8" textLength="221.71" lengthAdjust="spacingAndGlyphs" fill="#333">k=1,024 (29°C/52%/1004mbar)</text>
<text x="191.05" y="737.46" font-size="15.74" textLength="98.61" lengthAdjust="spacingAndGlyphs" fill="#333">Krupjak aerox</text>
<text x="191.84" y="754.95" font-size="15.51" textLength="76.49" lengthAdjust="spacingAndGlyphs" fill="#333">148 tr ,3 gr</text>
<rect x="130.02" y="102.24" width="29" height="28.4" fill="#fff" stroke="#777" stroke-width="1"/>
<text x="133.06" y="121.43" font-size="22.5" style="font-family:Liberation Serif,serif" fill="#5a5a5a" stroke="#5a5a5a" stroke-width="0.25" textLength="23.5" lengthAdjust="spacingAndGlyphs">p4</text>
<path d="M133.02 106.44h16.5M140.52 126.44h15.5" stroke="#777" stroke-width="1.1" stroke-dasharray="1 0.8" fill="none"/>
</g>
<g>
<path d="M123.5 419.5 C125.58 417.94 131.75 413.22 136 410.12 C140.25 407.03 144.98 403.83 149 400.93 C153.02 398.02 156.39 395.65 160.12 392.7 C163.86 389.75 166.63 387.39 171.4 383.23 C176.17 379.06 181.88 373.9 188.73 367.7 C195.57 361.5 204.44 353.26 212.45 346.05 C220.46 338.84 228.88 331.28 236.77 324.43 C244.67 317.57 252.12 311.3 259.8 304.9 C267.48 298.5 275.36 291.92 282.83 286.02 C290.29 280.13 297.88 274.3 304.6 269.52 C311.32 264.75 317.4 260.83 323.15 257.38 C328.9 253.92 333.9 251.16 339.12 248.8 C344.35 246.44 349.47 244.55 354.47 243.22 C359.48 241.9 364.71 241.28 369.17 240.85 C373.64 240.42 377.53 240.55 381.25 240.62 C384.97 240.7 387.8 241.13 391.47 241.32 C395.15 241.52 399.52 241.78 403.3 241.8 C407.07 241.82 411.18 241.66 414.12 241.45 C417.07 241.24 418.78 241 420.97 240.55 C423.17 240.1 425.03 239.55 427.3 238.73 C429.57 237.9 432.17 236.81 434.6 235.62 C437.03 234.44 439.47 233.05 441.9 231.63 C444.33 230.2 446.77 228.6 449.2 227.07 C451.63 225.55 454.06 223.96 456.49 222.48 C458.91 220.99 461.33 219.6 463.75 218.18 C466.17 216.75 468.59 215.38 471.01 213.9 C473.44 212.43 475.99 210.8 478.3 209.32 C480.61 207.85 482.78 206.41 484.88 205.07 C486.97 203.74 488.66 202.7 490.88 201.3 C493.09 199.9 495.49 198.42 498.15 196.7 C500.81 194.98 503.89 192.98 506.82 190.98 C509.76 188.98 512.79 186.86 515.77 184.7 C518.76 182.54 521.74 180.2 524.73 178 C527.71 175.8 530.77 173.48 533.68 171.53 C536.58 169.57 539.52 167.78 542.17 166.25 C544.82 164.72 547.35 163.45 549.57 162.32 C551.8 161.2 553.51 160.38 555.5 159.5 C557.49 158.62 559.06 157.9 561.52 157.03 C563.99 156.15 567.02 155.1 570.31 154.22 C573.6 153.35 577.6 152.49 581.25 151.75 C584.9 151.01 588.54 150.46 592.19 149.81 C595.83 149.17 599.32 148.61 603.12 147.88 C606.93 147.14 610.94 146.47 615 145.41 C619.06 144.35 623.44 142.99 627.5 141.51 C631.56 140.04 635.71 138.12 639.38 136.57 C643.04 135.03 646.37 133.5 649.5 132.24 C652.63 130.97 655.32 129.92 658.17 128.98 C661.02 128.03 663.65 127.22 666.6 126.58 C669.55 125.93 672.64 125.44 675.85 125.1 C679.06 124.76 682.66 124.57 685.85 124.52 C689.04 124.48 692.02 124.63 695 124.85 C697.98 125.07 700.47 125.51 703.72 125.83 C706.98 126.14 710.45 126.53 714.55 126.75 C718.65 126.97 723.72 127.12 728.3 127.15 C732.88 127.18 738.02 127.1 742.05 126.95 C746.08 126.8 749.35 126.46 752.47 126.23 C755.6 125.99 757.99 125.66 760.83 125.53 C763.66 125.39 766.51 125.36 769.48 125.42 C772.44 125.49 775.35 125.7 778.62 125.9 C781.9 126.1 785.36 126.4 789.12 126.65 C792.89 126.9 797.99 126.74 801.2 127.4 C804.41 128.06 806.32 129.32 808.4 130.6 C810.48 131.88 812.07 133.17 813.7 135.1 C815.33 137.03 816.7 138.92 818.2 142.2 C819.7 145.48 821.2 150.02 822.7 154.8 C824.2 159.58 825.85 165.53 827.2 170.9 C828.55 176.27 829.75 181.62 830.8 187 C831.85 192.38 832.62 197.22 833.5 203.2 C834.38 209.18 835.22 215.08 836.1 222.9 C836.98 230.72 837.92 237.02 838.8 250.1 C839.68 263.18 840.7 285.17 841.4 301.4 C842.1 317.63 842.58 332.13 843 347.5 C843.42 362.87 843.68 378.18 843.9 393.6 C844.12 409.02 844.37 427.27 844.3 440 C844.23 452.73 843.93 461.38 843.5 470 C843.07 478.62 842.35 484.45 841.7 491.7 C841.05 498.95 840.38 506.25 839.6 513.5 C838.82 520.75 837.98 527.95 837 535.2 C836.02 542.45 835.15 549.75 833.7 557 C832.25 564.25 830.22 572.18 828.3 578.7 C826.38 585.22 825.22 590.3 822.2 596.1 C819.18 601.9 814.18 608.67 810.2 613.5 C806.22 618.33 802.28 621.33 798.33 625.08 C794.38 628.83 788.47 634.18 786.5 636" stroke="#2a2a2a" stroke-width="1.05" fill="none" stroke-linejoin="round"/>
<path d="M124.3 585 L122.8 580 L122.7 540 L123.2 505 L124.8 492 L126.6 483 L128.3 469.5 L131.5 460 L136 445 L141.8 430.4 L156.5 388.7 L170.5 368.25 L186 367 L201.5 367.5 L217 367.5 L232.75 367.5 L248 369.5 L263.75 370.5 L280 368.75 L295.5 366.75 L310.5 366.75 L326 366 L341 367 L356 365 L370.5 365 L384.5 365 L396.5 364.25 L407.5 361.75 L429.5 362 L451.75 361.75 L473.25 361.75 L495 361.75 L516.75 362.75 L527.5 363.75 L540 364.5 L551.25 365.75 L562 366.75 L573.25 366.75 L595 367.75 L615.75 365.5 L637 365.5 L657.5 368 L678 370.75 L697.5 373.75 L715.75 374.75 L734.5 373.75 L752 371 L769.5 371 L785.5 371 L802.5 371 L818 372.25 L832.5 371.75 L839.9 375.1 L842.3 384.3 L844.5 403.7 L844.6 440 L843.75 448.3 L842.1 456.7 L838.3 460 L831.8 461 L816.9 464.7 L801.5 467.3 L789.3 469" stroke="#2a2a2a" stroke-width="1.05" fill="none" stroke-linejoin="round"/>
<rect x="121.6" y="582.3" width="5.4" height="5.4" fill="#fff" stroke="#2a2a2a" stroke-width="1"/>
<rect x="139.1" y="427.7" width="5.4" height="5.4" fill="#fff" stroke="#2a2a2a" stroke-width="1"/>
<rect x="153.8" y="386" width="5.4" height="5.4" fill="#fff" stroke="#2a2a2a" stroke-width="1"/>
<rect x="167.8" y="365.55" width="5.4" height="5.4" fill="#fff" stroke="#2a2a2a" stroke-width="1"/>
<rect x="183.3" y="364.3" width="5.4" height="5.4" fill="#fff" stroke="#2a2a2a" stroke-width="1"/>
<rect x="198.8" y="364.8" width="5.4" height="5.4" fill="#fff" stroke="#2a2a2a" stroke-width="1"/>
<rect x="214.3" y="364.8" width="5.4" height="5.4" fill="#fff" stroke="#2a2a2a" stroke-width="1"/>
<rect x="230.05" y="364.8" width="5.4" height="5.4" fill="#fff" stroke="#2a2a2a" stroke-width="1"/>
<rect x="245.3" y="366.8" width="5.4" height="5.4" fill="#fff" stroke="#2a2a2a" stroke-width="1"/>
<rect x="261.05" y="367.8" width="5.4" height="5.4" fill="#fff" stroke="#2a2a2a" stroke-width="1"/>
<rect x="277.3" y="366.05" width="5.4" height="5.4" fill="#fff" stroke="#2a2a2a" stroke-width="1"/>
<rect x="292.8" y="364.05" width="5.4" height="5.4" fill="#fff" stroke="#2a2a2a" stroke-width="1"/>
<rect x="307.8" y="364.05" width="5.4" height="5.4" fill="#fff" stroke="#2a2a2a" stroke-width="1"/>
<rect x="323.3" y="363.3" width="5.4" height="5.4" fill="#fff" stroke="#2a2a2a" stroke-width="1"/>
<rect x="338.3" y="364.3" width="5.4" height="5.4" fill="#fff" stroke="#2a2a2a" stroke-width="1"/>
<rect x="353.3" y="362.3" width="5.4" height="5.4" fill="#fff" stroke="#2a2a2a" stroke-width="1"/>
<rect x="367.8" y="362.3" width="5.4" height="5.4" fill="#fff" stroke="#2a2a2a" stroke-width="1"/>
<rect x="381.8" y="362.3" width="5.4" height="5.4" fill="#fff" stroke="#2a2a2a" stroke-width="1"/>
<rect x="393.8" y="361.55" width="5.4" height="5.4" fill="#fff" stroke="#2a2a2a" stroke-width="1"/>
<rect x="404.8" y="359.05" width="5.4" height="5.4" fill="#fff" stroke="#2a2a2a" stroke-width="1"/>
<rect x="426.8" y="359.3" width="5.4" height="5.4" fill="#fff" stroke="#2a2a2a" stroke-width="1"/>
<rect x="449.05" y="359.05" width="5.4" height="5.4" fill="#fff" stroke="#2a2a2a" stroke-width="1"/>
<rect x="470.55" y="359.05" width="5.4" height="5.4" fill="#fff" stroke="#2a2a2a" stroke-width="1"/>
<rect x="492.3" y="359.05" width="5.4" height="5.4" fill="#fff" stroke="#2a2a2a" stroke-width="1"/>
<rect x="514.05" y="360.05" width="5.4" height="5.4" fill="#fff" stroke="#2a2a2a" stroke-width="1"/>
<rect x="524.8" y="361.05" width="5.4" height="5.4" fill="#fff" stroke="#2a2a2a" stroke-width="1"/>
<rect x="537.3" y="361.8" width="5.4" height="5.4" fill="#fff" stroke="#2a2a2a" stroke-width="1"/>
<rect x="548.55" y="363.05" width="5.4" height="5.4" fill="#fff" stroke="#2a2a2a" stroke-width="1"/>
<rect x="559.3" y="364.05" width="5.4" height="5.4" fill="#fff" stroke="#2a2a2a" stroke-width="1"/>
<rect x="570.55" y="364.05" width="5.4" height="5.4" fill="#fff" stroke="#2a2a2a" stroke-width="1"/>
<rect x="592.3" y="365.05" width="5.4" height="5.4" fill="#fff" stroke="#2a2a2a" stroke-width="1"/>
<rect x="613.05" y="362.8" width="5.4" height="5.4" fill="#fff" stroke="#2a2a2a" stroke-width="1"/>
<rect x="634.3" y="362.8" width="5.4" height="5.4" fill="#fff" stroke="#2a2a2a" stroke-width="1"/>
<rect x="654.8" y="365.3" width="5.4" height="5.4" fill="#fff" stroke="#2a2a2a" stroke-width="1"/>
<rect x="675.3" y="368.05" width="5.4" height="5.4" fill="#fff" stroke="#2a2a2a" stroke-width="1"/>
<rect x="694.8" y="371.05" width="5.4" height="5.4" fill="#fff" stroke="#2a2a2a" stroke-width="1"/>
<rect x="713.05" y="372.05" width="5.4" height="5.4" fill="#fff" stroke="#2a2a2a" stroke-width="1"/>
<rect x="731.8" y="371.05" width="5.4" height="5.4" fill="#fff" stroke="#2a2a2a" stroke-width="1"/>
<rect x="749.3" y="368.3" width="5.4" height="5.4" fill="#fff" stroke="#2a2a2a" stroke-width="1"/>
<rect x="766.8" y="368.3" width="5.4" height="5.4" fill="#fff" stroke="#2a2a2a" stroke-width="1"/>
<rect x="782.8" y="368.3" width="5.4" height="5.4" fill="#fff" stroke="#2a2a2a" stroke-width="1"/>
<rect x="799.8" y="368.3" width="5.4" height="5.4" fill="#fff" stroke="#2a2a2a" stroke-width="1"/>
<rect x="815.3" y="369.55" width="5.4" height="5.4" fill="#fff" stroke="#2a2a2a" stroke-width="1"/>
<rect x="829.8" y="369.05" width="5.4" height="5.4" fill="#fff" stroke="#2a2a2a" stroke-width="1"/>
<rect x="841.8" y="401" width="5.4" height="5.4" fill="#fff" stroke="#2a2a2a" stroke-width="1"/>
<rect x="829.1" y="458.3" width="5.4" height="5.4" fill="#fff" stroke="#2a2a2a" stroke-width="1"/>
<rect x="814.2" y="462" width="5.4" height="5.4" fill="#fff" stroke="#2a2a2a" stroke-width="1"/>
<rect x="798.8" y="464.6" width="5.4" height="5.4" fill="#fff" stroke="#2a2a2a" stroke-width="1"/>
<rect x="786.6" y="466.3" width="5.4" height="5.4" fill="#fff" stroke="#2a2a2a" stroke-width="1"/>
</g>
</g>
<text x="817.39" y="773.9" font-size="21.87" font-weight="bold" textLength="135.23" lengthAdjust="spacingAndGlyphs" fill="#0c0c0c" stroke="#0c0c0c" stroke-width="0.5">OctaviaClub.cz</text>
<rect x="956" y="0" width="4" height="4.8" fill="#2a2a2a"/>
</svg>
</body></html>
